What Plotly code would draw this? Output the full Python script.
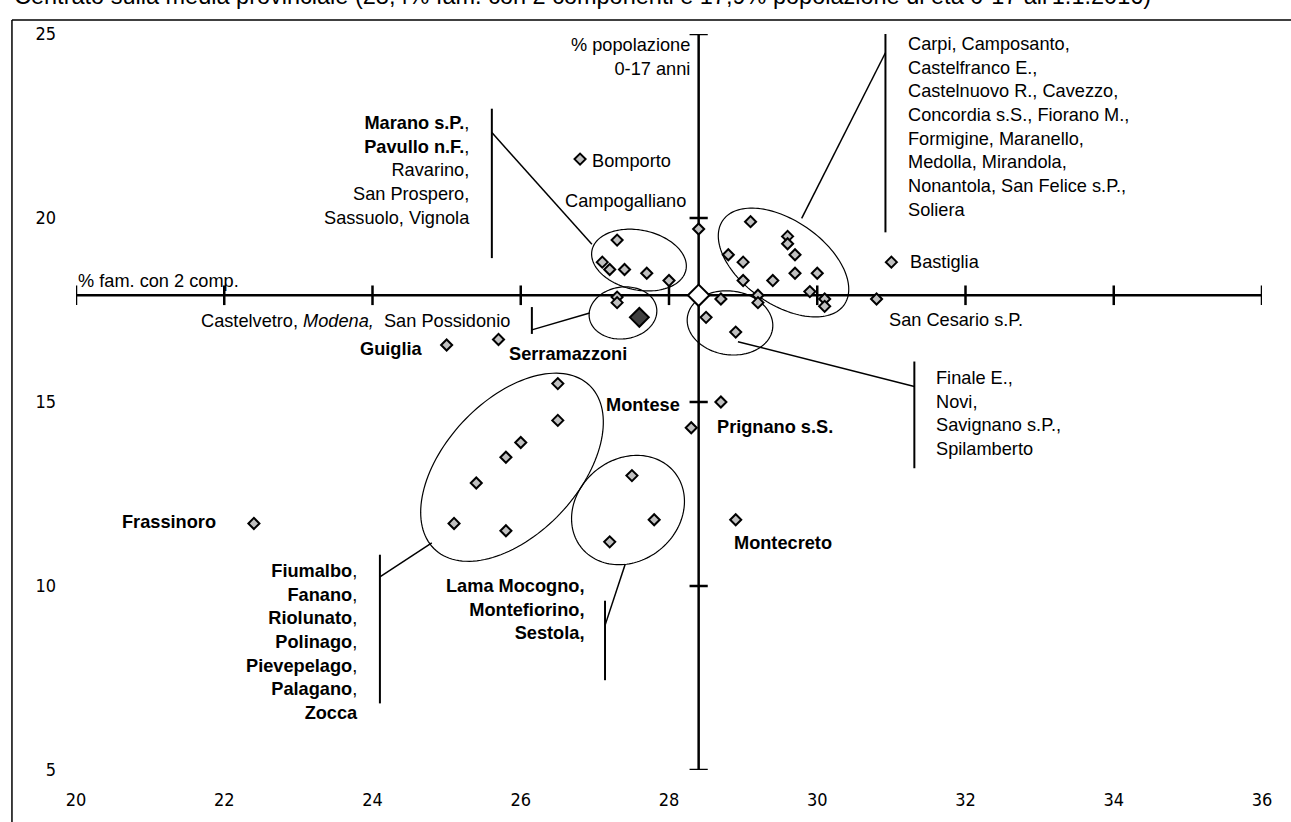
import numpy as np
import plotly.graph_objects as go

# comuni della provincia di Modena: % famiglie con 2 componenti, % popolazione 0-17 anni
comuni = [
    'Marano s.P.', 'Pavullo n.F.', 'Ravarino', 'San Prospero', 'Sassuolo', 'Vignola',
    'Castelvetro', 'San Possidonio',
    'Carpi', 'Camposanto', 'Castelfranco E.', 'Castelnuovo R.', 'Cavezzo', 'Concordia s.S.',
    'Fiorano M.', 'Formigine', 'Maranello', 'Medolla', 'Mirandola', 'Nonantola',
    'San Felice s.P.', 'Soliera',
    'Finale E.', 'Novi', 'Savignano s.P.', 'Spilamberto',
    'Bomporto', 'Campogalliano', 'Bastiglia', 'San Cesario s.P.', 'Guiglia', 'Serramazzoni',
    'Montese', 'Prignano s.S.', 'Montecreto', 'Frassinoro',
    'Fiumalbo', 'Fanano', 'Riolunato', 'Polinago', 'Pievepelago', 'Palagano', 'Zocca',
    'Lama Mocogno', 'Montefiorino', 'Sestola',
]
fam_2comp = [
    27.3, 27.1, 27.2, 27.4, 27.7, 28.0,
    27.3, 27.3,
    29.1, 29.6, 29.6, 29.7, 28.8, 29.0, 29.0, 29.4, 29.7, 30.0, 29.9, 29.2, 30.1, 30.1,
    28.7, 28.5, 28.9, 29.2,
    26.8, 28.4, 31.0, 30.8, 25.0, 25.7,
    28.7, 28.3, 28.9, 22.4,
    26.5, 26.5, 26.0, 25.8, 25.4, 25.1, 25.8,
    27.5, 27.8, 27.2,
]
pop_0_17 = [
    19.4, 18.8, 18.6, 18.6, 18.5, 18.3,
    17.85, 17.7,
    19.9, 19.5, 19.3, 19.0, 19.0, 18.8, 18.3, 18.3, 18.5, 18.5, 18.0, 17.9, 17.8, 17.6,
    17.8, 17.3, 16.9, 17.7,
    21.6, 19.7, 18.8, 17.8, 16.55, 16.7,
    15.0, 14.3, 11.8, 11.7,
    15.5, 14.5, 13.9, 13.5, 12.8, 11.7, 11.5,
    13.0, 11.8, 11.2,
]
modena_fam, modena_pop = [27.6], [17.3]
media_fam, media_pop = 28.4, 17.9

x_ticks = [20, 22, 24, 26, 28, 30, 32, 34, 36]
y_ticks = [5, 10, 15, 20, 25]

FONT = 'Liberation Sans, Arial, sans-serif'
FS = 18.2
# pixel per unità sugli assi (area 1186 x 739 px)
PX_X = 1186 / 16
PX_Y = 739 / 20

fig = go.Figure()

# assi centrati sulla media provinciale
fig.add_trace(go.Scatter(x=[x_ticks[0], x_ticks[-1]], y=[media_pop, media_pop], mode='lines',
                         line=dict(color='black', width=2.5), hoverinfo='skip'))
fig.add_trace(go.Scatter(x=[media_fam, media_fam], y=[y_ticks[0], y_ticks[-1]], mode='lines',
                         line=dict(color='black', width=2.5), hoverinfo='skip'))
fig.add_trace(go.Scatter(x=x_ticks, y=[media_pop] * len(x_ticks), mode='markers',
                         marker=dict(symbol='line-ns', size=14, line=dict(color='black', width=2.5)),
                         hoverinfo='skip'))
fig.add_trace(go.Scatter(x=[media_fam] * len(y_ticks), y=y_ticks, mode='markers',
                         marker=dict(symbol='line-ew', size=13, line=dict(color='black', width=2.5)),
                         hoverinfo='skip'))

fig.add_trace(go.Scatter(x=fam_2comp, y=pop_0_17, mode='markers', text=comuni,
                         marker=dict(symbol='diamond', size=8.5, color='#c0c0c0',
                                     line=dict(color='black', width=2))))
fig.add_trace(go.Scatter(x=modena_fam, y=modena_pop, mode='markers', text=['Modena'],
                         marker=dict(symbol='diamond', size=14.5, color='#404040',
                                     line=dict(color='black', width=2))))
fig.add_trace(go.Scatter(x=[media_fam], y=[media_pop], mode='markers', text=['Media provinciale'],
                         marker=dict(symbol='diamond', size=16.5, color='white',
                                     line=dict(color='black', width=2))))


def ellisse(cx, cy, a, b, ang):
    t = np.linspace(0, 2 * np.pi, 140)
    th = np.radians(ang)
    ex = a * np.cos(t) * np.cos(th) - b * np.sin(t) * np.sin(th)
    ey = a * np.cos(t) * np.sin(th) + b * np.sin(t) * np.cos(th)
    xs = cx + ex / PX_X
    ys = cy - ey / PX_Y
    path = 'M ' + ' L '.join(f'{x:.4f},{y:.4f}' for x, y in zip(xs, ys)) + ' Z'
    return dict(type='path', path=path, xref='x', yref='y', layer='below',
                line=dict(color='black', width=1.2))


def linea(x0, y0, x1, y1, w=1.5):
    return dict(type='line', x0=x0, y0=y0, x1=x1, y1=y1, xref='x', yref='y',
                line=dict(color='black', width=w))


shapes = [
    ellisse(27.595, 18.857, 48, 30, 12),
    ellisse(27.379, 17.42, 34, 26, -8),
    ellisse(29.545, 18.79, 74, 42, 35),
    ellisse(28.823, 17.15, 43, 32, 8),
    ellisse(25.882, 13.227, 113, 67, -47),
    ellisse(27.447, 12.064, 60, 51, -40),
    # parentesi e richiami
    linea(25.61, 22.97, 25.61, 18.91, 2), linea(25.61, 22.32, 26.96, 19.29),
    linea(30.92, 25.14, 30.92, 19.61, 2), linea(30.92, 24.49, 29.79, 19.99),
    linea(31.31, 16.10, 31.31, 13.20, 2), linea(31.31, 15.42, 28.93, 16.64),
    linea(26.15, 17.58, 26.15, 16.85, 2), linea(26.15, 16.96, 26.93, 17.42),
    linea(24.10, 10.85, 24.10, 6.81, 2), linea(24.10, 10.25, 24.80, 11.17),
    linea(27.137, 9.60, 27.137, 7.44, 2), linea(27.137, 8.93, 27.41, 10.60),
    # cornice del grafico
    dict(type='line', xref='paper', yref='paper', x0=-0.054, y0=1.019, x1=1.05, y1=1.019,
         line=dict(color='black', width=1.5)),
    dict(type='line', xref='paper', yref='paper', x0=-0.054, y0=1.019, x1=-0.054, y1=-0.1,
         line=dict(color='black', width=1.5)),
]


def testo(x, y, t, xanchor='left', align='left'):
    return dict(x=x, y=y, xref='x', yref='y', text=t, showarrow=False, xanchor=xanchor,
                yanchor='middle', align=align, font=dict(family=FONT, size=FS, color='black'))


annotations = [
    dict(x=-0.054, y=1.051, xref='paper', yref='paper', xanchor='left', yanchor='middle',
         showarrow=False, font=dict(family=FONT, size=23.5, color='black'),
         text="Centrato sulla media provinciale (28,4% fam. con 2 componenti e 17,9% "
              "popolazione di età 0-17 all'1.1.2016)"),
    testo(28.31, 24.38, '% popolazione<br>0-17 anni', 'right', 'right'),
    testo(20.0, 18.28, '% fam. con 2 comp.'),
    testo(25.34, 21.28, '<b>Marano s.P.</b>,<br><b>Pavullo n.F.</b>,<br>Ravarino,<br>'
                        'San Prospero,<br>Sassuolo, Vignola', 'right', 'right'),
    testo(26.93, 21.56, 'Bomporto'),
    testo(28.26, 20.46, 'Campogalliano', 'right'),
    testo(31.20, 22.46, 'Carpi, Camposanto,<br>Castelfranco E.,<br>Castelnuovo R., Cavezzo,<br>'
                        'Concordia s.S., Fiorano M.,<br>Formigine, Maranello,<br>'
                        'Medolla, Mirandola,<br>Nonantola, San Felice s.P.,<br>Soliera'),
    testo(31.22, 18.80, 'Bastiglia'),
    testo(30.94, 17.23, 'San Cesario s.P.'),
    testo(31.58, 14.70, 'Finale E.,<br>Novi,<br>Savignano s.P.,<br>Spilamberto'),
    testo(25.88, 17.21, 'Castelvetro, <i>Modena,</i>&nbsp; San Possidonio', 'right'),
    testo(24.71, 16.45, '<b>Guiglia</b>', 'right'),
    testo(25.81, 16.31, '<b>Serramazzoni</b>'),
    testo(28.18, 14.93, '<b>Montese</b>', 'right'),
    testo(28.62, 14.31, '<b>Prignano s.S.</b>'),
    testo(28.85, 11.17, '<b>Montecreto</b>'),
    testo(21.92, 11.74, '<b>Frassinoro</b>', 'right'),
    testo(23.83, 8.49, '<b>Fiumalbo</b>,<br><b>Fanano</b>,<br><b>Riolunato</b>,<br><b>Polinago</b>,<br>'
                       '<b>Pievepelago</b>,<br><b>Palagano</b>,<br><b>Zocca</b>', 'right', 'right'),
    testo(26.88, 9.36, '<b>Lama Mocogno,<br>Montefiorino,<br>Sestola,</b>', 'right', 'right'),
]

tick_font = dict(family='DejaVu Sans Condensed, Liberation Sans, sans-serif',
                 size=18, color='black')

fig.update_layout(
    width=1291, height=822,
    margin=dict(l=76, r=29, t=34, b=49),
    paper_bgcolor='white', plot_bgcolor='white',
    showlegend=False,
    shapes=shapes, annotations=annotations,
    xaxis=dict(range=[20, 36], tickvals=x_ticks, showgrid=False, zeroline=False, showline=False,
               ticks='', ticklabelstandoff=17, tickfont=tick_font),
    yaxis=dict(range=[5, 25], tickvals=y_ticks, showgrid=False, zeroline=False, showline=False,
               ticks='', ticklabelstandoff=19, tickfont=tick_font),
)

# la pagina html ha un margine di 8px attorno al grafico: lo azzero
fig.write_html("out.html", config={'displayModeBar': False},
               post_script="document.body.style.margin='0px';")
